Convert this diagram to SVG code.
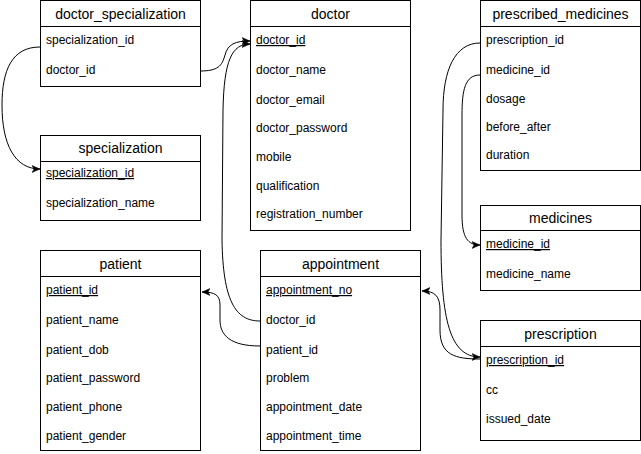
<svg xmlns="http://www.w3.org/2000/svg" width="641" height="454" viewBox="0 0 641 454">
<style>
.box{fill:#fff;stroke:#000;stroke-width:1}
.sep{stroke:#000;stroke-width:1}
.t{font-family:"Liberation Sans",Arial,sans-serif;font-size:14px;text-anchor:middle;fill:#000}
.f{font-family:"Liberation Sans",Arial,sans-serif;font-size:12px;fill:#000}
.k{text-decoration:underline}
.c{fill:none;stroke:#000;stroke-width:1}
</style>
<defs>
<marker id="arr" markerUnits="userSpaceOnUse" markerWidth="10" markerHeight="10" refX="8" refY="4" orient="auto">
<path d="M0,0.5 L8,4 L0,7.5 L2,4 Z" fill="#000" stroke="#000" stroke-width="0.5"/>
</marker>
</defs>
<rect width="641" height="454" fill="#fff"/>
<g id="doctor_specialization">
<rect class="box" x="40.5" y="0.5" width="160" height="86"/>
<line class="sep" x1="40.5" y1="26.5" x2="200.5" y2="26.5"/>
<text class="t" x="120.5" y="19">doctor_specialization</text>
<text class="f" x="46" y="44">specialization_id</text>
<text class="f" x="46" y="74">doctor_id</text>
</g>
<g id="specialization">
<rect class="box" x="40.5" y="135.5" width="160" height="85"/>
<line class="sep" x1="40.5" y1="161.5" x2="200.5" y2="161.5"/>
<text class="t" x="120.5" y="153">specialization</text>
<text class="f k" x="46" y="177">specialization_id</text>
<text class="f" x="46" y="207">specialization_name</text>
</g>
<g id="doctor">
<rect class="box" x="250.5" y="0.5" width="160" height="230"/>
<line class="sep" x1="250.5" y1="26.5" x2="410.5" y2="26.5"/>
<text class="t" x="330.5" y="19">doctor</text>
<text class="f k" x="256" y="44">doctor_id</text>
<text class="f" x="256" y="74">doctor_name</text>
<text class="f" x="256" y="104">doctor_email</text>
<text class="f" x="256" y="132">doctor_password</text>
<text class="f" x="256" y="161">mobile</text>
<text class="f" x="256" y="190">qualification</text>
<text class="f" x="256" y="218">registration_number</text>
</g>
<g id="prescribed_medicines">
<rect class="box" x="480.5" y="0.5" width="160" height="170"/>
<line class="sep" x1="480.5" y1="26.5" x2="640.5" y2="26.5"/>
<text class="t" x="560.5" y="19">prescribed_medicines</text>
<text class="f" x="486" y="44">prescription_id</text>
<text class="f" x="486" y="74">medicine_id</text>
<text class="f" x="486" y="103">dosage</text>
<text class="f" x="486" y="131">before_after</text>
<text class="f" x="486" y="159">duration</text>
</g>
<g id="medicines">
<rect class="box" x="480.5" y="205.5" width="160" height="85"/>
<line class="sep" x1="480.5" y1="230.5" x2="640.5" y2="230.5"/>
<text class="t" x="560.5" y="223">medicines</text>
<text class="f k" x="486" y="248">medicine_id</text>
<text class="f" x="486" y="278">medicine_name</text>
</g>
<g id="patient">
<rect class="box" x="40.5" y="250.5" width="160" height="200"/>
<line class="sep" x1="40.5" y1="276.5" x2="200.5" y2="276.5"/>
<text class="t" x="120.5" y="269">patient</text>
<text class="f k" x="46" y="294">patient_id</text>
<text class="f" x="46" y="324">patient_name</text>
<text class="f" x="46" y="354">patient_dob</text>
<text class="f" x="46" y="382">patient_password</text>
<text class="f" x="46" y="411">patient_phone</text>
<text class="f" x="46" y="440">patient_gender</text>
</g>
<g id="appointment">
<rect class="box" x="260.5" y="250.5" width="160" height="200"/>
<line class="sep" x1="260.5" y1="276.5" x2="420.5" y2="276.5"/>
<text class="t" x="340.5" y="269">appointment</text>
<text class="f k" x="266" y="294">appointment_no</text>
<text class="f" x="266" y="324">doctor_id</text>
<text class="f" x="266" y="354">patient_id</text>
<text class="f" x="266" y="382">problem</text>
<text class="f" x="266" y="411">appointment_date</text>
<text class="f" x="266" y="440">appointment_time</text>
</g>
<g id="prescription">
<rect class="box" x="480.5" y="320.5" width="160" height="120"/>
<line class="sep" x1="480.5" y1="346.5" x2="640.5" y2="346.5"/>
<text class="t" x="560.5" y="339">prescription</text>
<text class="f k" x="486" y="364">prescription_id</text>
<text class="f" x="486" y="394">cc</text>
<text class="f" x="486" y="423">issued_date</text>
</g>
<g id="connectors">
<path class="c" marker-end="url(#arr)" d="M40,47 C12,47 2,70 2,105 C2,145 15,169 40,169"/>
<path class="c" marker-end="url(#arr)" d="M200,71 C218,71 222,66 225,55 C228,44 235,41 250,41"/>
<path class="c" marker-end="url(#arr)" d="M260,321 C235,321 223,300 222,240 L223,110 C224,60 232,44 250,44"/>
<path class="c" marker-end="url(#arr)" d="M260,346 C230,346 220,335 220,320 L220,305 C220,295 215,292 202,292"/>
<path class="c" marker-end="url(#arr)" d="M480,43 C455,43 443,70 443,110 L441,240 C441,320 450,357 480,357"/>
<path class="c" marker-end="url(#arr)" d="M480,75 C465,75 462,90 462,115 L462,215 C462,238 468,245 480,245"/>
<path class="c" marker-end="url(#arr)" d="M480,359 C455,359 440,355 440,330 L440,310 C440,296 435,291 422,291"/>
</g>
</svg>
